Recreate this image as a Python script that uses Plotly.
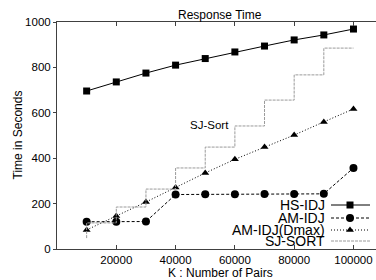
import plotly.graph_objects as go

# ---- data ----
pairs = [10000, 20000, 30000, 40000, 50000, 60000, 70000, 80000, 90000, 100000]
hs_idj = [696, 736, 775, 810, 839, 868, 894, 921, 943, 969]
am_idj = [120, 120, 121, 240, 241, 241, 242, 242, 243, 357]
am_idj_dmax = [84, 145, 207, 271, 335, 395, 449, 502, 560, 617]
sj_sort = [48, 115, 185, 264, 357, 449, 542, 656, 767, 885]

x_ticks = [20000, 40000, 60000, 80000, 100000]
y_ticks = [0, 200, 400, 600, 800, 1000]

FONT = "Liberation Sans, Arial, Helvetica, sans-serif"
W, H = 376, 280
L, R, T, B = 57, 0, 22, 31

fig = go.Figure()

fig.add_trace(go.Scatter(x=pairs, y=hs_idj, mode="lines+markers", name="HS-IDJ",
                         line=dict(color="black", width=1),
                         marker=dict(symbol="square", size=7, color="black")))
fig.add_trace(go.Scatter(x=pairs, y=am_idj, mode="lines+markers", name="AM-IDJ",
                         line=dict(color="black", width=1, dash="3px,2px"),
                         marker=dict(symbol="circle", size=8, color="black")))
fig.add_trace(go.Scatter(x=pairs, y=am_idj_dmax, mode="lines+markers", name="AM-IDJ(Dmax)",
                         line=dict(color="black", width=1, dash="1px,2px"),
                         marker=dict(symbol="triangle-up", size=7, color="black")))
fig.add_trace(go.Scatter(x=pairs, y=sj_sort, mode="lines", name="SJ-SORT",
                         line=dict(color="#9a9a9a", width=1, dash="3px,1px", shape="vh")))

# ---- custom gnuplot-like legend (pixel overlay axes) ----
leg_rows = [205, 218, 230, 241]
leg_names = ["HS-IDJ", "AM-IDJ", "AM-IDJ(Dmax)", "SJ-SORT"]
leg_lines = [dict(color="black", width=1),
             dict(color="black", width=1, dash="3px,2px"),
             dict(color="black", width=1, dash="1px,2px"),
             dict(color="#9a9a9a", width=1, dash="3px,1px")]
leg_markers = [dict(symbol="square", size=7, color="black"),
               dict(symbol="circle", size=8, color="black"),
               dict(symbol="triangle-up", size=7, color="black"),
               None]
for yy, nm, ln, mk in zip(leg_rows, leg_names, leg_lines, leg_markers):
    fig.add_trace(go.Scatter(x=[331, 370], y=[yy, yy], mode="lines", line=ln,
                             xaxis="x2", yaxis="y2", showlegend=False, hoverinfo="skip"))
    if mk is not None:
        fig.add_trace(go.Scatter(x=[350], y=[yy], mode="markers", marker=mk,
                                 xaxis="x2", yaxis="y2", showlegend=False, hoverinfo="skip"))
    fig.add_annotation(x=327, y=yy, xref="x2", yref="y2", text=nm, showarrow=False,
                       xanchor="right", yanchor="middle",
                       font=dict(family=FONT, size=14, color="black"))

pw = W - L - R
ph = H - T - B

def px(xp):
    return (xp - L) / pw

def py(yp):
    return (H - B - yp) / ph

fig.add_annotation(x=px(220), y=py(15), xref="paper", yref="paper", text="Response Time",
                   showarrow=False, xanchor="center", yanchor="middle",
                   font=dict(family=FONT, size=12, color="black"))
fig.add_annotation(x=px(220), y=py(273), xref="paper", yref="paper", text="K : Number of Pairs",
                   showarrow=False, xanchor="center", yanchor="middle",
                   font=dict(family=FONT, size=12, color="black"))
fig.add_annotation(x=px(17), y=0.5, xref="paper", yref="paper", text="Time in Seconds",
                   showarrow=False, xanchor="center", yanchor="middle", textangle=-90,
                   font=dict(family=FONT, size=12, color="black"))
fig.add_annotation(x=51600, y=546, xref="x", yref="y", text="SJ-Sort", showarrow=False,
                   xanchor="center", yanchor="middle",
                   font=dict(family=FONT, size=11.5, color="black"))

fig.update_layout(
    width=W, height=H,
    margin=dict(l=L, r=R, t=T, b=B, pad=0),
    paper_bgcolor="white", plot_bgcolor="white",
    showlegend=False,
    font=dict(family=FONT, size=11, color="black"),
    xaxis=dict(range=[0, 107600], tickvals=x_ticks, ticktext=[str(v) for v in x_ticks],
               showgrid=False, zeroline=False, showline=True, linecolor="#404040", linewidth=1,
               mirror="ticks", ticks="inside", ticklen=4, tickcolor="#404040",
               tickfont=dict(family=FONT, size=11.5, color="black")),
    yaxis=dict(range=[0, 1000], tickvals=y_ticks, ticktext=[str(v) for v in y_ticks],
               showgrid=False, zeroline=False, showline=True, linecolor="#404040", linewidth=1,
               ticks="outside", ticklen=3, tickcolor="#404040",
               tickfont=dict(family=FONT, size=11.5, color="black")),
    xaxis2=dict(range=[L, W - R], overlaying="x", visible=False, anchor="y2"),
    yaxis2=dict(range=[H - B, T], overlaying="y", visible=False, anchor="x2"),
)

fig.write_html("out.html", config={"displayModeBar": False},
               post_script="document.body.style.margin='0';document.body.style.overflow='hidden';")
